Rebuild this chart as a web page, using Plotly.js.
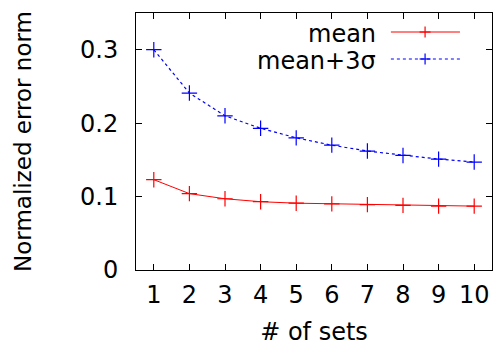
<!DOCTYPE html>
<html>
<head>
<meta charset="utf-8">
<script src="https://cdn.plot.ly/plotly-3.0.1.min.js"></script>
<style>html,body{margin:0;padding:0;background:#fff;}#chart{width:496px;height:356px;}</style>
</head>
<body>
<div id="chart"></div>
<script>
const sets = [1, 2, 3, 4, 5, 6, 7, 8, 9, 10];
const meanVals = [0.123, 0.104, 0.097, 0.093, 0.091, 0.090, 0.089, 0.088, 0.087, 0.087];
const mean3sVals = [0.300, 0.241, 0.210, 0.193, 0.180, 0.170, 0.162, 0.156, 0.151, 0.147];
const seriesNames = ["mean", "mean+3σ"];
const xTicks = [1, 2, 3, 4, 5, 6, 7, 8, 9, 10];
const yTicks = [0, 0.1, 0.2, 0.3];
const yTickText = ["0", "0.1", "0.2", "0.3"];

const FONT = "DejaVu Sans, Liberation Sans, Arial, sans-serif";
const FS = 24;
const RED = "#ff0000", BLUE = "#0000ff";

const traces = [
  {x: sets, y: meanVals, name: seriesNames[0], type: "scatter", mode: "lines+markers",
   line: {color: RED, width: 1},
   marker: {symbol: "cross-thin", size: 11, color: RED, line: {color: RED, width: 1.2}}},
  {x: sets, y: mean3sVals, name: seriesNames[1], type: "scatter", mode: "lines+markers",
   line: {color: BLUE, width: 1.2, dash: "dot"},
   marker: {symbol: "cross-thin", size: 11, color: BLUE, line: {color: BLUE, width: 1.2}}}
];

// custom gnuplot-style legend (text right-aligned, sample on the right)
const legRows = [{y: 0.926, color: RED, dash: "solid"}, {y: 0.821, color: BLUE, dash: "dot"}];
const shapes = [];
const annotations = [];
legRows.forEach((r, i) => {
  shapes.push({type: "line", xref: "paper", yref: "paper", x0: 0.716, x1: 0.910, y0: r.y, y1: r.y,
    line: {color: r.color, width: 1.2, dash: r.dash}});
  shapes.push({type: "line", xref: "paper", yref: "paper", xsizemode: "pixel", xanchor: 0.812,
    x0: -5.5, x1: 5.5, y0: r.y, y1: r.y, line: {color: r.color, width: 1.2}});
  shapes.push({type: "line", xref: "paper", yref: "paper", ysizemode: "pixel", yanchor: r.y,
    x0: 0.812, x1: 0.812, y0: -5.5, y1: 5.5, line: {color: r.color, width: 1.2}});
  annotations.push({xref: "paper", yref: "paper", x: 0.681, y: r.y - 0.008, xanchor: "right", yanchor: "middle",
    text: seriesNames[i], showarrow: false, font: {family: FONT, size: FS, color: "#000"}});
});

const layout = {
  width: 496, height: 356,
  margin: {l: 136, r: 4, t: 13, b: 86, pad: 0},
  paper_bgcolor: "#fff", plot_bgcolor: "#fff",
  showlegend: false,
  font: {family: FONT, size: FS, color: "#000"},
  xaxis: {
    range: [0.5, 10.5], tickvals: xTicks, ticktext: xTicks.map(String),
    ticks: "inside", ticklen: 6, tickwidth: 1, tickcolor: "#000",
    showline: true, linecolor: "#000", linewidth: 1, mirror: "ticks",
    showgrid: false, zeroline: false,
    tickfont: {family: FONT, size: FS}, ticklabelstandoff: 3,
    title: {text: "# of sets", font: {family: FONT, size: FS}, standoff: 15}
  },
  yaxis: {
    range: [0, 0.35], tickvals: yTicks, ticktext: yTickText,
    ticks: "inside", ticklen: 6, tickwidth: 1, tickcolor: "#000",
    showline: true, linecolor: "#000", linewidth: 1, mirror: "ticks",
    showgrid: false, zeroline: false,
    tickfont: {family: FONT, size: FS}, ticklabelstandoff: 12,
    title: {text: "Normalized error norm", font: {family: FONT, size: 23}, standoff: 41}
  },
  shapes: shapes,
  annotations: annotations
};

Plotly.newPlot("chart", traces, layout, {displayModeBar: false, staticPlot: true});
</script>
</body>
</html>
